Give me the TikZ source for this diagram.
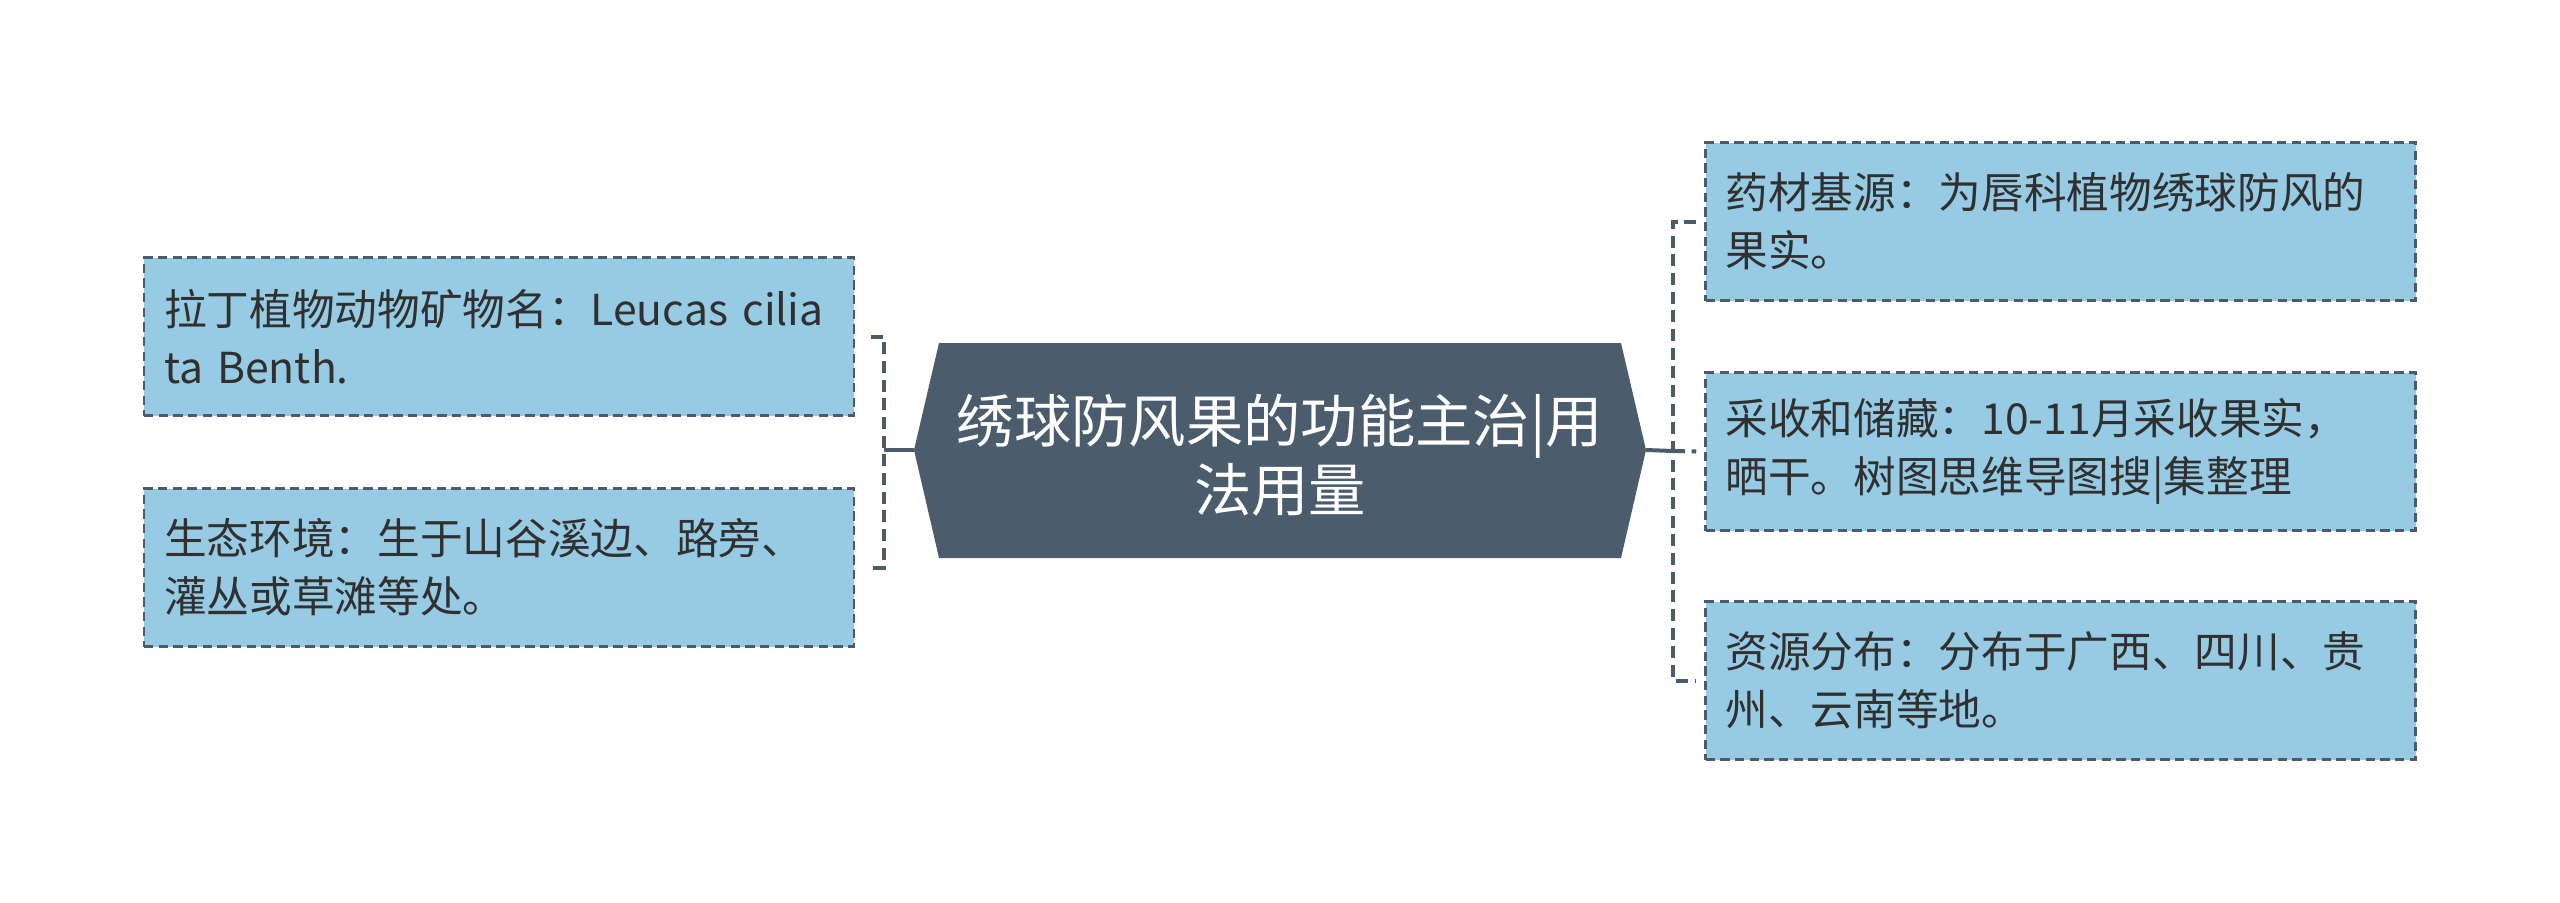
\documentclass[tikz,border=0pt]{standalone}
\usepackage{fontspec}
\setmainfont{Noto Sans CJK SC}
\definecolor{boxfill}{HTML}{96CBE3}
\definecolor{edge}{HTML}{4B5B6B}
\definecolor{hubfill}{HTML}{4B5C6C}
\definecolor{txt}{HTML}{303030}
\begin{document}
\begin{tikzpicture}[x=0.75pt,y=-0.75pt,
 leaf/.style={draw=edge, line width=1.9pt, dash pattern=on 7pt off 4pt, fill=boxfill, text=txt,
   font=\fontsize{32}{43.5}\selectfont, align=left, text width=502.5pt, inner xsep=15pt, inner ysep=0pt,
   minimum height=118.5pt, anchor=center},
 link/.style={draw=edge, line width=3pt, dash pattern=on 9pt off 5pt},
 trunk/.style={draw=edge, line width=3pt}]
\useasboundingbox (0,0) rectangle (2560,903);
\fill[hubfill] (914,450) -- (939,343) -- (1621,343) -- (1646,450) -- (1621,558) -- (939,558) -- cycle;
\node[text=white, font=\fontsize{43}{52}\selectfont, align=center, inner sep=0pt] (hub) at (1280,455) {绣球防风果的功能主治|用\\法用量};
\coordinate (hl) at (914,450);
\coordinate (hr) at (1646,450);
\node[leaf] (l1) at (499,336.5) {拉丁植物动物矿物名：Leucas cilia\\ta Benth.};
\node[leaf] (l2) at (499,567.5) {生态环境：生于山谷溪边、路旁、\\灌丛或草滩等处。};
\node[leaf] (r1) at (2060.5,221.5) {药材基源：为唇科植物绣球防风的\\果实。};
\node[leaf] (r2) at (2060.5,451.5) {采收和储藏：10-11月采收果实，\\晒干。树图思维导图搜|集整理};
\node[leaf] (r3) at (2060.5,680.5) {资源分布：分布于广西、四川、贵\\州、云南等地。};
\coordinate (lb) at (884,450);
\coordinate (rb) at (1673,451);
\draw[trunk] (hl) -- (lb);
\draw[link] ([xshift=12pt]l1.east) -| (lb) |- ([xshift=12pt]l2.east);
\draw[trunk] (hr) -- (rb);
\draw[link] ([xshift=-6pt]r1.west) -| (rb) |- ([xshift=-6pt]r3.west);
\draw[link] (rb) -- ([xshift=-6pt]r2.west);
\end{tikzpicture}
\end{document}
